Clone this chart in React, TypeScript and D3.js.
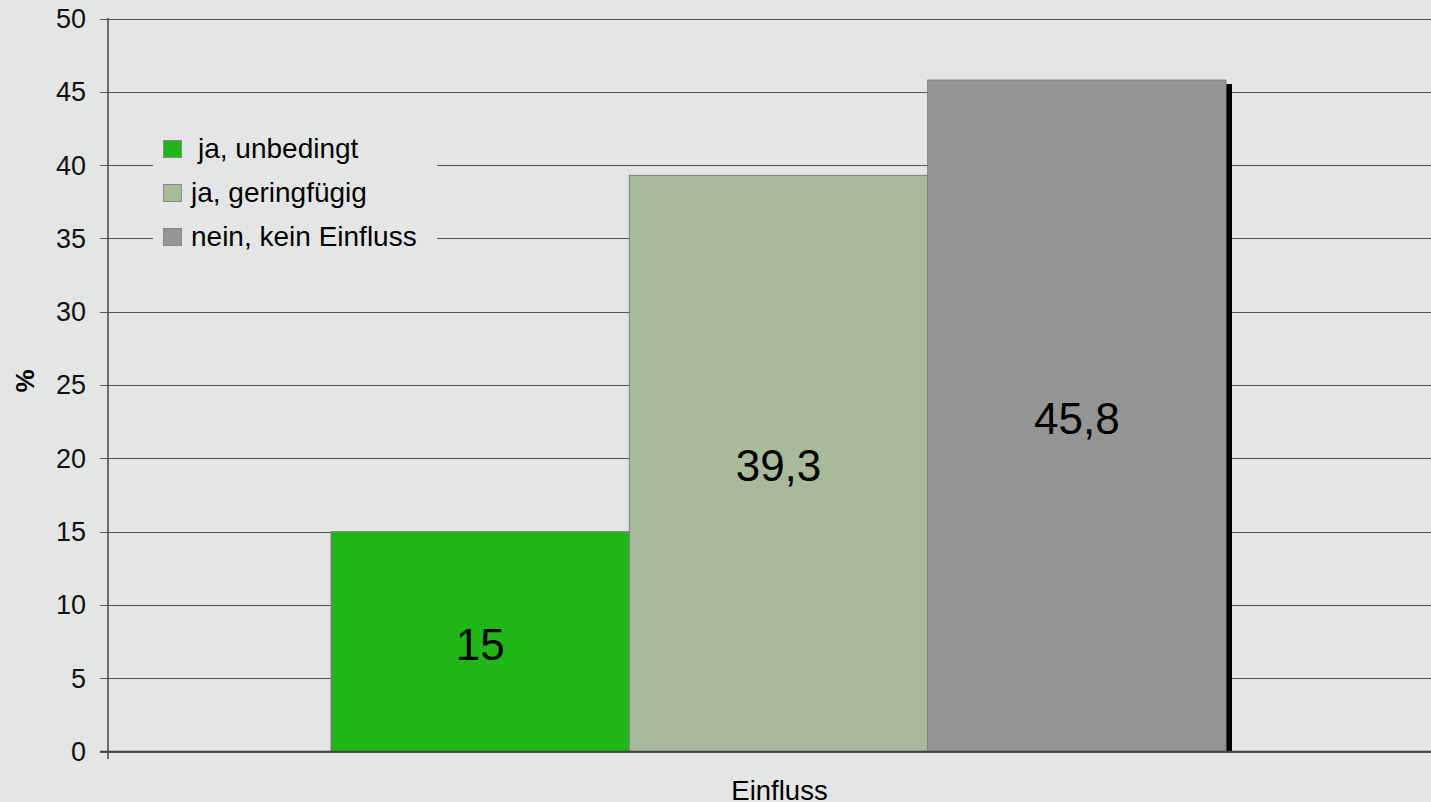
import React from "react";
import * as d3 from "d3";

const categories = ["Einfluss"];
const seriesNames = ["ja, unbedingt", "ja, geringfügig", "nein, kein Einfluss"];
const seriesValues = [15, 39.3, 45.8];
const valueLabels = ["15", "39,3", "45,8"];
const seriesColors = ["#1fb618", "#a9ba9b", "#959595"];
const yTicks = [0, 5, 10, 15, 20, 25, 30, 35, 40, 45, 50];

const W = 1431;
const H = 802;
const plotRight = 1431;
const font = "Liberation Sans, Arial, sans-serif";

export default function App() {
  const y = d3.scaleLinear().domain([0, 50]).range([751.5, 18.5]);
  const x0 = d3.scaleBand().domain(categories).range([331, 1226]).padding(0);
  const x1 = d3
    .scaleBand()
    .domain(seriesNames)
    .range([0, x0.bandwidth()])
    .padding(0);

  return (
    <svg
      width={W}
      height={H}
      style={{ position: "absolute", left: 0, top: 0, background: "#e4e6e5" }}
    >
      <rect x={0} y={0} width={W} height={H} fill="#e4e6e5" />
      {yTicks.map((t) => (
        <g key={t}>
          <line
            x1={100}
            x2={plotRight}
            y1={Math.round(y(t)) + 0.5}
            y2={Math.round(y(t)) + 0.5}
            stroke="#555"
            strokeWidth={1.2}
          />
          <text
            x={86}
            y={y(t)}
            dy="0.35em"
            textAnchor="end"
            fontFamily={font}
            fontSize={27}
            fill="#111"
          >
            {t}
          </text>
        </g>
      ))}
      <rect x={153} y={126} width={284} height={128} fill="#e4e6e5" />
      {categories.map((c) => (
        <g key={c} transform={`translate(${x0(c)},0)`}>
          {seriesNames.map((s, i) => {
            const bx = x1(s) as number;
            const bw = x1.bandwidth();
            const top = y(seriesValues[i]);
            const cx = bx + bw / 2;
            const cy = (top + y(0)) / 2;
            return (
              <g key={s}>
                {i === seriesNames.length - 1 && (
                  <rect
                    x={bx + bw}
                    y={top + 4}
                    width={6}
                    height={y(0) - top - 4}
                    fill="#000"
                  />
                )}
                <rect
                  x={bx}
                  y={top}
                  width={bw}
                  height={y(0) - top}
                  fill={seriesColors[i]}
                  stroke="#808080"
                  strokeWidth={1}
                />
                <text
                  x={cx}
                  y={cy + 18}
                  textAnchor="middle"
                  fontFamily={font}
                  fontSize={44}
                  fill="#000"
                >
                  {valueLabels[i]}
                </text>
              </g>
            );
          })}
        </g>
      ))}
      <line x1={100} x2={plotRight} y1={751.5} y2={751.5} stroke="#444" strokeWidth={1.5} />
      <line x1={108} x2={108} y1={18} y2={759} stroke="#444" strokeWidth={1.5} />
      {seriesNames.map((s, i) => (
        <g key={s} transform={`translate(163,${140 + i * 44})`}>
          <rect
            x={0.5}
            y={0.5}
            width={18}
            height={17}
            fill={seriesColors[i]}
            stroke="#888"
            strokeWidth={1}
          />
          <text
            x={i === 0 ? 35 : 28}
            y={17.5}
            fontFamily={font}
            fontSize={28}
            fill="#000"
          >
            {s}
          </text>
        </g>
      ))}
      <text
        transform={`translate(25,${y(25) - 4}) rotate(-90)`}
        textAnchor="middle"
        dy="0.35em"
        fontFamily={font}
        fontSize={26}
        fontWeight="bold"
        fill="#000"
      >
        %
      </text>
      {categories.map((c) => (
        <text
          key={c}
          x={(x0(c) as number) + x0.bandwidth() / 2 + 1}
          y={799.5}
          textAnchor="middle"
          fontFamily={font}
          fontSize={27.5}
          fill="#000"
        >
          {c}
        </text>
      ))}
    </svg>
  );
}
